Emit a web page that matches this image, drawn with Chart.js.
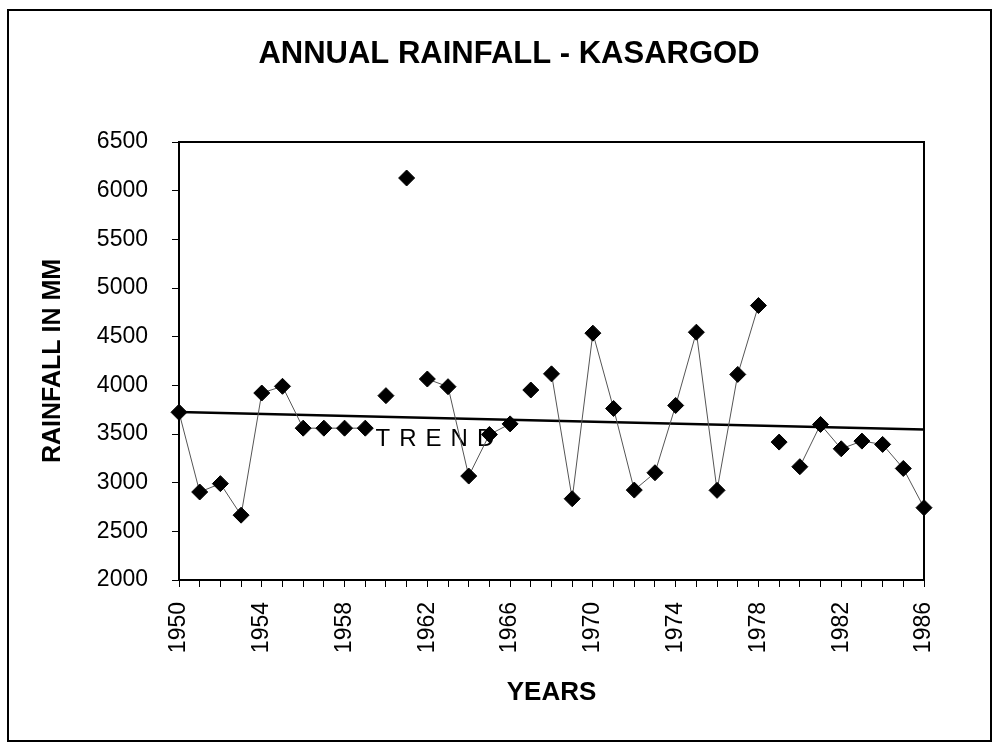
<!DOCTYPE html>
<html>
<head>
<meta charset="utf-8">
<script src="https://cdn.jsdelivr.net/npm/chart.js@4/dist/chart.umd.min.js"></script>
<style>
  html, body { margin: 0; padding: 0; background: #fff; }
  #wrap { position: relative; width: 996px; height: 743px; }
</style>
</head>
<body>
<div id="wrap"><canvas id="myChart" width="996" height="743"></canvas></div>
<script>
// chart data
let years = [];
for (let y = 1950; y <= 1986; y++) years.push(y);

let rainfall = [
  3723, 2904, 2990, 2666, 3921, 3990, 3560, 3560, 3560, 3560,
  3894, 6130, 4065, 3986, 3068, 3495, 3604, 3952, 4118, 2835,
  4536, 3762, 2924, 3102, 3793, 4546, 2921, 4112, 4820, 3417,
  3164, 3598, 3348, 3427, 3393, 3146, 2743
];

// the joining line has faded out of the scan after these years
let fadedSegments = [1959, 1960, 1961, 1966, 1967, 1978, 1979];

let trendYears = [1950, 1986];
let trendValues = [3725, 3545];

let yTicks = [2000, 2500, 3000, 3500, 4000, 4500, 5000, 5500, 6000, 6500];
let yearLabelStep = 4;

let fontFamily = "'Liberation Sans', Arial, sans-serif";

// build point lists for the library
let rainPoints = [];
for (let i = 0; i < years.length; i++) {
  rainPoints.push({ x: years[i], y: rainfall[i] });
}
let trendPoints = [];
for (let i = 0; i < trendYears.length; i++) {
  trendPoints.push({ x: trendYears[i], y: trendValues[i] });
}

// frame, plot box, title and the TREND note
const decorations = {
  id: "decorations",
  beforeDatasetsDraw(chart) {
    const ctx = chart.ctx;
    const a = chart.chartArea;
    ctx.save();
    ctx.strokeStyle = "#000";
    ctx.lineWidth = 2;
    ctx.strokeRect(8, 10, 983, 731);
    ctx.strokeRect(a.left, a.top, a.right - a.left, a.bottom - a.top);

    ctx.fillStyle = "#000";
    ctx.font = "bold 31px " + fontFamily;
    ctx.textAlign = "center";
    ctx.textBaseline = "middle";
    ctx.fillText("ANNUAL RAINFALL - KASARGOD", 509, 54);

    // trend label sits just under the trend line
    const xs = chart.scales.x;
    const ys = chart.scales.y;
    ctx.font = "24px " + fontFamily;
    ctx.textAlign = "left";
    ctx.textBaseline = "alphabetic";
    ctx.letterSpacing = "9px";
    ctx.fillText("TREND", xs.getPixelForValue(1959.5), ys.getPixelForValue(3380));
    ctx.restore();
  }
};

const data = {
  datasets: [
    {
      label: "Rainfall",
      data: rainPoints,
      borderColor: "#555",
      borderWidth: 1,
      segment: {
        borderColor: function (ctx) {
          return fadedSegments.includes(ctx.p0.parsed.x) ? "rgba(0,0,0,0)" : undefined;
        },
      },
      pointStyle: "rectRot",
      pointRadius: 8,
      pointBackgroundColor: "#000",
      pointBorderColor: "#000",
      pointBorderWidth: 1,
      tension: 0,
      clip: false,
    },
    {
      label: "Trend",
      data: trendPoints,
      borderColor: "#000",
      borderWidth: 2.5,
      pointRadius: 0,
      tension: 0,
      clip: false,
    },
  ],
};

const config = {
  type: "line",
  data: data,
  options: {
    responsive: false,
    animation: false,
    layout: { padding: { left: 0, right: 72, top: 142, bottom: 0 } },
    plugins: {
      legend: { display: false },
      tooltip: { enabled: false },
    },
    scales: {
      x: {
        type: "linear",
        min: years[0],
        max: years[years.length - 1],
        grid: {
          drawOnChartArea: false,
          drawTicks: true,
          tickLength: 7,
          color: "#000",
        },
        border: { display: false },
        ticks: {
          stepSize: 1,
          autoSkip: false,
          minRotation: 90,
          maxRotation: 90,
          padding: 15,
          color: "#000",
          font: { family: fontFamily, size: 23 },
          callback: function (value) {
            return (value - years[0]) % yearLabelStep === 0 ? String(value) : "";
          },
        },
        title: {
          display: true,
          text: "YEARS",
          color: "#000",
          font: { family: fontFamily, size: 26, weight: "bold" },
          padding: { top: 0, bottom: 35 },
        },
        afterFit: function (scale) {
          scale.height = 163;
        },
      },
      y: {
        min: yTicks[0],
        max: yTicks[yTicks.length - 1],
        grid: {
          drawOnChartArea: false,
          drawTicks: true,
          tickLength: 7,
          color: "#000",
        },
        border: { display: false },
        afterBuildTicks: function (scale) {
          scale.ticks = yTicks.map((v) => ({ value: v }));
        },
        ticks: {
          padding: 24,
          color: "#000",
          font: { family: fontFamily, size: 23 },
          callback: function (value) {
            return String(value);
          },
        },
        title: {
          display: true,
          text: "RAINFALL IN MM",
          color: "#000",
          font: { family: fontFamily, size: 25, weight: "bold" },
          padding: { top: 38, bottom: 0 },
        },
        afterFit: function (scale) {
          scale.width = 179;
        },
      },
    },
  },
  plugins: [decorations],
};

let canvasChart = document.getElementById("myChart").getContext("2d");
const myChart = new Chart(canvasChart, config);
</script>
</body>
</html>
